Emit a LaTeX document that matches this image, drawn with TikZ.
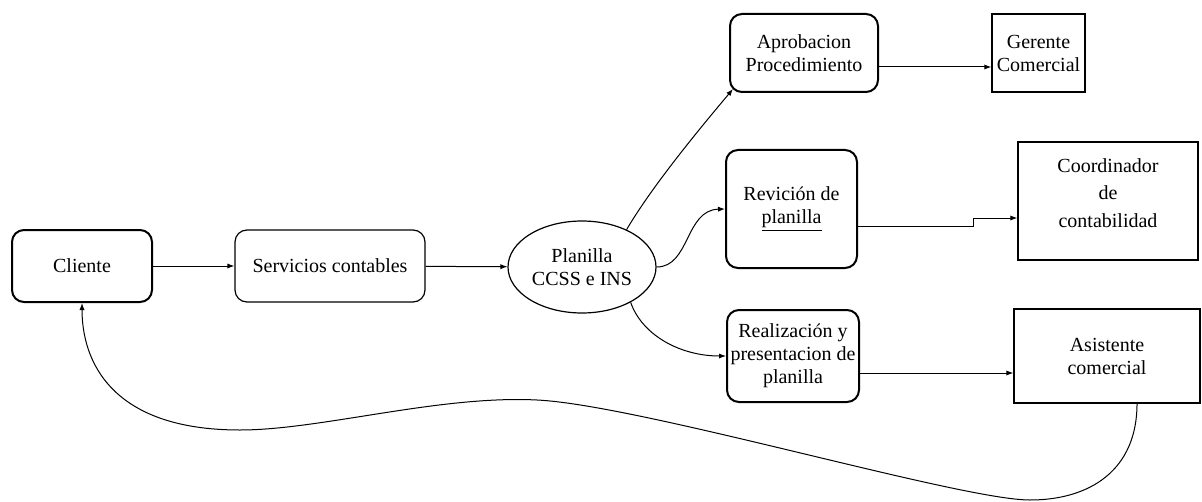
\documentclass[tikz,border=0pt]{standalone}
\usepackage{fontspec}
\newfontfamily\labelfont{LiberationSerif-Regular.ttf}
% o with an acute accent: the accent glyph is taken from the roman text font
\newcommand\oac{\leavevmode\setbox0\hbox{o}\rlap{\hbox to \wd0{\hss{\normalfont\char"00B4}\hss}}o}
\usetikzlibrary{shapes.geometric,arrows.meta}
\begin{document}
\begin{tikzpicture}[x=0.5pt,y=-0.5pt,
  font=\labelfont\fontsize{10}{11.5}\selectfont,
  base/.style={draw, align=center, inner sep=0pt},
  heavybox/.style={base, rounded corners=6pt, line width=1pt},
  softbox/.style={base, rounded corners=6pt, line width=0.6pt},
  plainbox/.style={base, line width=0.7pt},
  arr/.style={-{Latex[length=3.5pt,width=2.6pt]}, line width=0.5pt}]
\useasboundingbox (0,0) rectangle (1202,502);

% main flow
\node[heavybox, minimum width=70pt, minimum height=36pt] (cli) at (82,266) {Cliente};
\node[softbox, minimum width=95pt, minimum height=36pt] (serv) at (330,266) {Servicios contables};
\node[ellipse, draw, line width=0.6pt, inner sep=0pt, minimum width=74pt,
  minimum height=46pt, align=center]
  (plan) at (582,267) {Planilla\\CCSS e INS};

% branches
\node[heavybox, minimum width=74pt, minimum height=39pt] (apr) at (804,53) {Aprobacion\\Procedimiento};
\node[plainbox, minimum width=46.5pt, minimum height=39pt] (ger) at (1038.5,53) {Gerente\\Comercial};

\node[heavybox, minimum width=65.5pt, minimum height=59pt] (rev) at (791.5,209) {Revici\oac n de\\\underline{planilla}};
\node[plainbox, minimum width=90pt, minimum height=59pt] (coo) at (1108,201) {};
\node[align=center, inner sep=0pt, font=\labelfont\fontsize{10}{13.75}\selectfont] (cootext) at (1108,193)
  {Coordinador\\de\\contabilidad};

\node[heavybox, minimum width=66pt, minimum height=46pt] (rea) at (793,356) {Realizaci\oac n y\\presentacion de\\planilla};
\node[plainbox, minimum width=93pt, minimum height=47pt] (asi) at (1107,356) {Asistente\\comercial};

% connectors
\draw[arr] (cli) -- (serv);
\draw[arr] (serv) -- (plan);
\draw[arr] (plan.40) .. controls (650,190) and (690,140) .. ([xshift=2pt,yshift=2pt]apr.south west);
\draw[arr] (plan.east) .. controls (690,267) and (685,210) .. (rev.west);
\draw[arr] (plan.-36) .. controls (642,335) and (680,356) .. (rea.west);
\draw[arr] ([yshift=-7pt]apr.east) -- ([yshift=-7pt]ger.west);
\draw[arr] ([yshift=-8.5pt]rev.east) -- (973,226) -- (973,218) -- ([yshift=-8.5pt]coo.west);
\draw[arr] ([yshift=-8.5pt]rea.east) -- ([yshift=-8.5pt]asi.west);

% return path to the client
\draw[arr] ([xshift=15pt]asi.south) .. controls (1137,470) and (1090,500) .. (1030,500)
  .. controls (960,500) and (640,405) .. (537,400)
  .. controls (440,395) and (320,430) .. (240,430)
  .. controls (110,430) and (82,360) .. (cli.south);
\end{tikzpicture}
\end{document}
